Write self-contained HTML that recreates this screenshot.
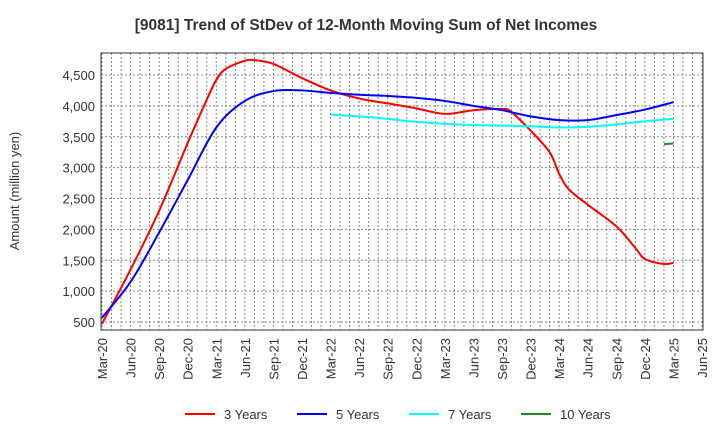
<!DOCTYPE html>
<html><head><meta charset="utf-8"><style>
body{margin:0;background:#fff;}
svg{font-family:"Liberation Sans",sans-serif;}
</style></head><body>
<svg id="c" width="720" height="440">
<text x="366" y="30" text-anchor="middle" font-size="15.5" font-weight="bold" fill="#333">[9081]  Trend of StDev of 12-Month Moving Sum of Net Incomes</text>
<text transform="translate(19,191) rotate(-90)" text-anchor="middle" font-size="13" fill="#333">Amount (million yen)</text>
<g id="grid"></g><g id="series"></g><g id="axes"></g>
<g id="legend"></g>
</svg>
<script>
const xLabels=["Mar-20","Jun-20","Sep-20","Dec-20","Mar-21","Jun-21","Sep-21","Dec-21","Mar-22","Jun-22","Sep-22","Dec-22","Mar-23","Jun-23","Sep-23","Dec-23","Mar-24","Jun-24","Sep-24","Dec-24","Mar-25","Jun-25"];
const yTicks=[500,1000,1500,2000,2500,3000,3500,4000,4500];
const m3=[0,3,6,9,11,12,13,15,16,18,21,24,27,30,33,36,39,42,43,45,47,48,49,51,54,56,57,59,60];
const s3=[470,1350,2300,3400,4100,4420,4600,4730,4740,4680,4450,4250,4120,4040,3960,3870,3930,3950,3900,3600,3250,2900,2650,2400,2050,1700,1520,1440,1460];
const m5=[0,3,6,9,12,15,18,21,24,27,30,33,36,39,42,45,48,51,54,57,60];
const s5=[570,1150,1950,2800,3650,4080,4240,4250,4210,4180,4160,4130,4080,4000,3930,3830,3770,3770,3850,3940,4060];
const m7=[24,27,30,33,36,39,42,45,48,51,54,57,60];
const s7=[3860,3830,3790,3740,3710,3690,3680,3670,3650,3660,3700,3750,3790];
const m10=[59,60];
const s10=[3380,3390];
const L=101,R=703,T=53,B=330;
const X=m=>102+m*(600/63);
const Y=v=>322-(v-500)*(247/4000);
const NS="http://www.w3.org/2000/svg";
function mk(t,a,p){const e=document.createElementNS(NS,t);for(const k in a)e.setAttribute(k,a[k]);p.appendChild(e);return e;}
const grid=document.getElementById('grid'),axes=document.getElementById('axes'),ser=document.getElementById('series'),leg=document.getElementById('legend');
for(let m=0;m<=63;m++){const l=mk('line',{x1:X(m),x2:X(m),y1:T,y2:B,stroke:'#888','stroke-dasharray':'2,2','stroke-width':1},grid);

}
yTicks.forEach(v=>{const l=mk('line',{x1:L,x2:R,y1:Y(v),y2:Y(v),stroke:'#888','stroke-dasharray':'2,2'},grid);


const t=mk('text',{x:L-6,y:Y(v)+5,'text-anchor':'end','font-size':13,fill:'#333'},axes);t.textContent=v.toLocaleString('en-US');

});
xLabels.forEach((s,i)=>{const x=X(i*3);const t=mk('text',{transform:`translate(${x+5},${B+8}) rotate(-90)`,'text-anchor':'end','font-size':13,fill:'#333'},axes);t.textContent=s;

});
const fr=mk('rect',{x:L,y:T,width:R-L,height:B-T,fill:'none',stroke:'#333','stroke-width':1},axes);


function path(ms,vs){const p=ms.map((m,i)=>[X(m),Y(vs[i])]);if(p.length<3)return 'M'+p.map(q=>q.join(',')).join('L');
let d='M'+p[0].join(',');for(let i=0;i<p.length-1;i++){const p0=p[Math.max(0,i-1)],p1=p[i],p2=p[i+1],p3=p[Math.min(p.length-1,i+2)];
d+=`C${p1[0]+(p2[0]-p0[0])/6},${p1[1]+(p2[1]-p0[1])/6} ${p2[0]-(p3[0]-p1[0])/6},${p2[1]-(p3[1]-p1[1])/6} ${p2[0]},${p2[1]}`;}return d;}
const S=[["3 Years",m3,s3,"#ff0000","series-3-years"],["5 Years",m5,s5,"#0000ff","series-5-years"],["7 Years",m7,s7,"#00ffff","series-7-years"],["10 Years",m10,s10,"#228b22","series-10-years"]];
const lx=[185,297,409,521];
S.forEach((s,i)=>{const p=mk('path',{d:path(s[1],s[2]),fill:'none',stroke:s[3],'stroke-width':2},ser);


const g=mk('g',{},leg);


mk('line',{x1:lx[i],x2:lx[i]+30,y1:414,y2:414,stroke:s[3],'stroke-width':2},g);
const t=mk('text',{x:lx[i]+39,y:419,'font-size':13,fill:'#333'},g);t.textContent=s[0];});
</script>
</body></html>
